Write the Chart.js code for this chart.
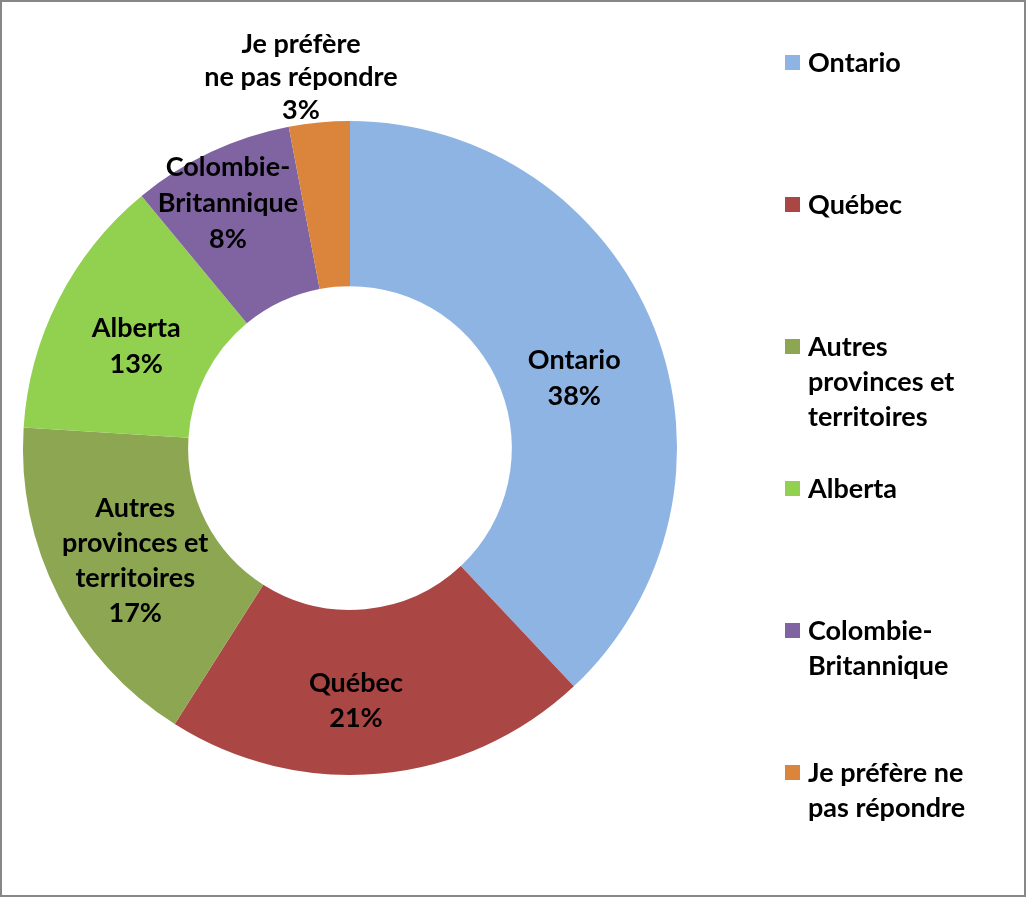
<!DOCTYPE html>
<html><head><meta charset="utf-8">
<script src="https://cdn.jsdelivr.net/npm/chart.js@4.4.0/dist/chart.umd.min.js"></script>
<style>
html,body{margin:0;padding:0;background:#fff;}
#wrap{position:relative;width:1026px;height:897px;overflow:hidden;}
#frame{position:absolute;left:0;top:0;width:1026px;height:897px;box-sizing:border-box;border:2px solid #878787;pointer-events:none;}
canvas{position:absolute;left:0;top:0;}
</style></head><body>
<div id="wrap"><canvas id="c" width="1026" height="897"></canvas><div id="frame"></div></div>
<script>
const categories = ["Ontario", "Québec", "Autres provinces et territoires", "Alberta", "Colombie-Britannique", "Je préfère ne pas répondre"];
const values = [38, 21, 17, 13, 8, 3];
const dataLabelLines = [
  ["Ontario"], ["Québec"], ["Autres", "provinces et", "territoires"], ["Alberta"], ["Colombie-", "Britannique"], ["Je préfère", "ne pas répondre"]
];
const legendLines = [
  ["Ontario"], ["Québec"], ["Autres", "provinces et", "territoires"], ["Alberta"], ["Colombie-", "Britannique"], ["Je préfère ne", "pas répondre"]
];
const colors = ["#8EB4E3", "#AA4643", "#8CA652", "#92D050", "#8064A2", "#DA843C"];

const FONT = "bold 27px Lato, 'Open Sans', sans-serif";

const labelPlugin = {
  id: "labelsAndLegend",
  afterDraw(chart, args, opts) {
    const ctx = chart.ctx;
    const meta = chart.getDatasetMeta(0);
    ctx.save();
    ctx.font = FONT;
    ctx.fillStyle = "#000";
    ctx.textAlign = "center";
    ctx.textBaseline = "middle";
    meta.data.forEach((arc, i) => {
      const p = arc.getProps(["x", "y", "startAngle", "endAngle", "innerRadius", "outerRadius"], true);
      const mid = (p.startAngle + p.endAngle) / 2;
      const r = opts.outside[i] ? p.outerRadius + opts.outsideGap : (p.innerRadius + p.outerRadius) / 2;
      const off = opts.offsets[i];
      const cx = p.x + Math.cos(mid) * r + off[0];
      const cy = p.y + Math.sin(mid) * r + off[1];
      const lines = dataLabelLines[i].concat([values[i] + "%"]);
      const lh = opts.lineHeights[i];
      const y0 = cy - (lines.length - 1) * lh / 2;
      lines.forEach((t, k) => ctx.fillText(t, cx, y0 + k * lh));
    });
    // legend
    ctx.textAlign = "left";
    legendLines.forEach((lines, i) => {
      const y = opts.legendTop + i * opts.legendStep;
      ctx.fillStyle = colors[i];
      ctx.fillRect(opts.legendX, y - 8, 15, 15);
      ctx.fillStyle = "#000";
      lines.forEach((t, k) => ctx.fillText(t, opts.legendX + 23, y + k * opts.legendLineHeight));
    });
    ctx.restore();
  }
};

new Chart(document.getElementById("c"), {
  type: "doughnut",
  data: {
    labels: categories,
    datasets: [{
      data: values,
      backgroundColor: colors,
      borderWidth: 0,
      hoverOffset: 0
    }]
  },
  options: {
    responsive: false,
    animation: false,
    cutout: "49.5%",
    layout: { padding: { left: 23, top: 121, right: 349, bottom: 122 } },
    plugins: {
      legend: { display: false },
      tooltip: { enabled: false },
      labelsAndLegend: {
        outside: [false, false, false, false, false, true],
        outsideGap: 45,
        offsets: [[-3, 20], [-17, 9], [3, 2], [4, 9], [-18, -24], [-14, 0]],
        lineHeights: [36, 35, 35, 36, 36, 33],
        legendX: 785,
        legendTop: 63,
        legendStep: 142,
        legendLineHeight: 35
      }
    }
  },
  plugins: [labelPlugin]
});
</script>
</body></html>
